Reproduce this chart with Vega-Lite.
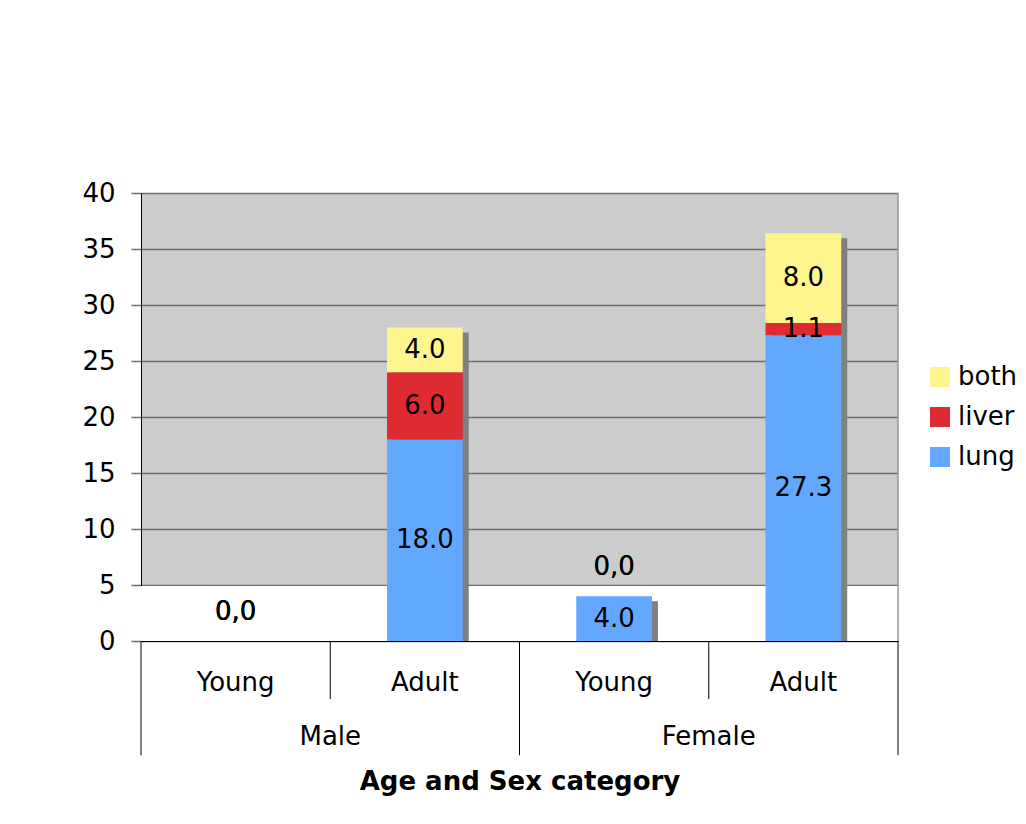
{
  "$schema": "https://vega.github.io/schema/vega-lite/v6.json",
  "background": "white",
  "padding": {"left": 81, "top": 180, "right": 5, "bottom": 5},
  "width": 757,
  "height": 448,
  "data": {"values": [
    {"cat": "Male Young", "sex": "Male", "age": "Young", "series": "lung", "value": 0},
    {"cat": "Male Young", "sex": "Male", "age": "Young", "series": "liver", "value": 0},
    {"cat": "Male Young", "sex": "Male", "age": "Young", "series": "both", "value": 0},
    {"cat": "Male Adult", "sex": "Male", "age": "Adult", "series": "lung", "value": 18.0},
    {"cat": "Male Adult", "sex": "Male", "age": "Adult", "series": "liver", "value": 6.0},
    {"cat": "Male Adult", "sex": "Male", "age": "Adult", "series": "both", "value": 4.0},
    {"cat": "Female Young", "sex": "Female", "age": "Young", "series": "lung", "value": 4.0},
    {"cat": "Female Young", "sex": "Female", "age": "Young", "series": "liver", "value": 0},
    {"cat": "Female Young", "sex": "Female", "age": "Young", "series": "both", "value": 0},
    {"cat": "Female Adult", "sex": "Female", "age": "Adult", "series": "lung", "value": 27.3},
    {"cat": "Female Adult", "sex": "Female", "age": "Adult", "series": "liver", "value": 1.1},
    {"cat": "Female Adult", "sex": "Female", "age": "Adult", "series": "both", "value": 8.0}
  ]},
  "layer": [
    {
      "mark": {"type": "rect", "color": "white", "xOffset": 1.5},
      "encoding": {
        "y": {"datum": 0, "type": "quantitative"},
        "y2": {"datum": 4.9}
      }
    },
    {
      "mark": {"type": "bar", "color": "#808080", "xOffset": 6, "yOffset": 5, "clip": true},
      "encoding": {
        "x": {"field": "cat", "type": "nominal", "sort": ["Male Young", "Male Adult", "Female Young", "Female Adult"]},
        "y": {"aggregate": "sum", "field": "value", "type": "quantitative"}
      }
    },
    {
      "mark": {"type": "bar"},
      "encoding": {
        "x": {
          "field": "cat", "type": "nominal", "sort": ["Male Young", "Male Adult", "Female Young", "Female Adult"],
          "scale": {"paddingInner": 0.6, "paddingOuter": 0.3},
          "axis": {
            "title": "Age and Sex category", "titleFontSize": 26, "titleFont": "DejaVu Sans", "titleFontWeight": "bold",
            "titleColor": "black", "titlePadding": 73,
            "labelExpr": "split(datum.label, ' ')[1]",
            "bandPosition": 0.5, "labelAlign": "center",
            "labelAngle": 0, "labelFontSize": 26, "labelFont": "DejaVu Sans",
            "labelColor": "black", "ticks": false, "tickSize": 0, "domainColor": "black", "labelPadding": 41, "zindex": 1
          }
        },
        "y": {
          "field": "value", "type": "quantitative", "stack": "zero",
          "scale": {"domain": [0, 40], "nice": false},
          "axis": {
            "title": null, "values": [0, 5, 10, 15, 20, 25, 30, 35, 40], "grid": true,
            "labelFontSize": 26, "labelFont": "DejaVu Sans", "labelColor": "black",
            "tickColor": "#6e6e6e", "tickSize": 10, "tickWidth": 1.5, "labelPadding": 16,
            "domainColor": "black", "gridColor": "#6e6e6e", "gridWidth": 1.5, "gridOpacity": 1
          }
        },
        "color": {
          "field": "series", "type": "nominal",
          "scale": {"domain": ["both", "liver", "lung"], "range": ["#FFF58F", "#DE2A31", "#63A8FF"]},
          "legend": {
            "title": null, "orient": "none", "legendX": 786, "legendY": 171,
            "symbolType": "square", "symbolSize": 400, "symbolStrokeWidth": 0,
            "labelFontSize": 26, "labelFont": "DejaVu Sans", "labelColor": "black",
            "labelOffset": 5, "rowPadding": 14
          }
        },
        "order": {"field": "series", "sort": "descending"}
      }
    },
    {
      "transform": [{"filter": "datum.value > 0"}],
      "mark": {"type": "text", "font": "DejaVu Sans", "fontSize": 26, "color": "black"},
      "encoding": {
        "x": {"field": "cat", "type": "nominal", "sort": ["Male Young", "Male Adult", "Female Young", "Female Adult"]},
        "y": {"field": "value", "type": "quantitative", "stack": "zero", "bandPosition": 0.5},
        "order": {"field": "series", "sort": "descending"},
        "text": {"field": "value", "type": "quantitative", "format": ".1f"}
      }
    },
    {
      "transform": [
        {"stack": "value", "groupby": ["cat"], "sort": [{"field": "series", "order": "descending"}], "as": ["v0", "v1"]},
        {"filter": "datum.value == 0"}
      ],
      "mark": {"type": "text", "font": "DejaVu Sans", "fontSize": 26, "color": "black", "dy": -29, "text": "0,0"},
      "encoding": {
        "x": {"field": "cat", "type": "nominal", "sort": ["Male Young", "Male Adult", "Female Young", "Female Adult"]},
        "y": {"field": "v1", "type": "quantitative"}
      }
    },
    {
      "transform": [{"filter": "datum.age == 'Young' && datum.series == 'lung'"}],
      "mark": {"type": "text", "font": "DejaVu Sans", "fontSize": 26, "color": "black", "xOffset": 94.625, "baseline": "middle"},
      "encoding": {
        "x": {"field": "cat", "type": "nominal", "sort": ["Male Young", "Male Adult", "Female Young", "Female Adult"]},
        "y": {"datum": -8.57, "type": "quantitative"},
        "text": {"field": "sex", "type": "nominal"}
      }
    },
    {
      "transform": [{"filter": "datum.age == 'Young' && datum.series == 'lung'"}],
      "mark": {"type": "rule", "color": "black", "strokeWidth": 1, "xOffset": -94.625},
      "encoding": {
        "x": {"field": "cat", "type": "nominal", "sort": ["Male Young", "Male Adult", "Female Young", "Female Adult"]},
        "y": {"datum": 0, "type": "quantitative"},
        "y2": {"datum": -10.2}
      }
    },
    {
      "transform": [{"filter": "datum.age == 'Adult' && datum.series == 'lung'"}],
      "mark": {"type": "rule", "color": "black", "strokeWidth": 1, "xOffset": -94.625},
      "encoding": {
        "x": {"field": "cat", "type": "nominal", "sort": ["Male Young", "Male Adult", "Female Young", "Female Adult"]},
        "y": {"datum": 0, "type": "quantitative"},
        "y2": {"datum": -5.18}
      }
    },
    {
      "transform": [{"filter": "datum.cat == 'Female Adult' && datum.series == 'lung'"}],
      "mark": {"type": "rule", "color": "black", "strokeWidth": 1, "xOffset": 94.625},
      "encoding": {
        "x": {"field": "cat", "type": "nominal", "sort": ["Male Young", "Male Adult", "Female Young", "Female Adult"]},
        "y": {"datum": 0, "type": "quantitative"},
        "y2": {"datum": -10.2}
      }
    },
    {
      "transform": [{"filter": "datum.cat == 'Female Adult' && datum.series == 'lung'"}],
      "mark": {"type": "rule", "color": "#999999", "strokeWidth": 1.5, "xOffset": 94.625},
      "encoding": {
        "x": {"field": "cat", "type": "nominal", "sort": ["Male Young", "Male Adult", "Female Young", "Female Adult"]},
        "y": {"datum": 0, "type": "quantitative"},
        "y2": {"datum": 40}
      }
    }
  ],
  "config": {
    "view": {"fill": "#cccccc", "stroke": null},
    "font": "DejaVu Sans"
  }
}
